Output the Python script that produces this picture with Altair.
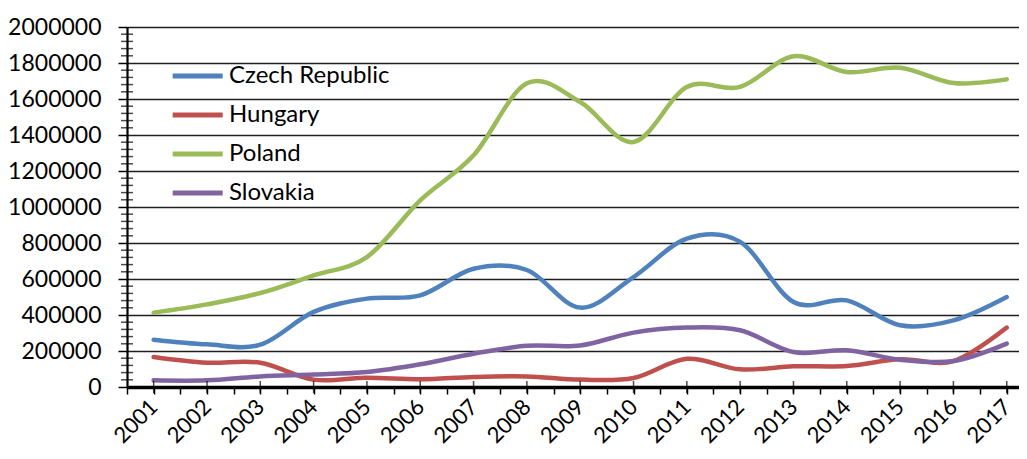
import altair as alt
import pandas as pd

years = list(range(2001, 2018))
countries = ["Czech Republic", "Hungary", "Poland", "Slovakia"]
czech = [263000, 237000, 235000, 417000, 491000, 509000, 657000, 650000, 441000,
         611000, 824000, 806000, 472000, 481000, 343000, 370000, 500000]
hungary = [167000, 135000, 135000, 41000, 52000, 43000, 56000, 59000, 41000,
           50000, 157000, 98000, 115000, 117000, 154000, 144000, 330000]
poland = [413000, 459000, 522000, 620000, 722000, 1037000, 1287000, 1687000, 1583000,
          1361000, 1667000, 1667000, 1837000, 1750000, 1774000, 1689000, 1709000]
slovakia = [37000, 37000, 59000, 69000, 83000, 126000, 185000, 229000, 231000,
            302000, 330000, 315000, 194000, 204000, 152000, 144000, 241000]
colors = ["#4F81BD", "#C0504D", "#9BBB59", "#8064A2"]

y_major = [i * 200000 for i in range(11)]
y_minor = [i * 40000 for i in range(51) if i % 5 != 0]
x_ticks = [2000.5 + 0.5 * i for i in range(34)]

series = {"Czech Republic": czech, "Hungary": hungary, "Poland": poland, "Slovakia": slovakia}
rows = []
for c in countries:
    for yr, v in zip(years, series[c]):
        rows.append({"year": yr, "country": c, "value": v})
df = pd.DataFrame(rows)

FONT = "Lato"

x_scale = alt.Scale(domain=[2000.5, 2017.23], nice=False, zero=False)
y_scale = alt.Scale(domain=[0, 2000000], nice=False)

x_axis = alt.Axis(
    values=x_ticks, title=None, grid=False,
    labelExpr="datum.value % 1 === 0 ? format(datum.value, 'd') : ''",
    labelAngle=-45, labelAlign="right", labelBaseline="middle",
    labelFontSize=22, labelFont=FONT, labelColor="#000000",
    labelPadding=9, tickSize=7, tickWidth=1.5, tickColor="#000000",
    domainColor="#000000", domainWidth=3.5, labelOverlap=False, labelFlush=False,
    labelBound=False)
y_axis = alt.Axis(
    values=y_major, title=None, format="d", grid=True, gridColor="#1e1e1e",
    gridWidth=1.4, labelFontSize=23, labelFont=FONT, labelColor="#000000",
    labelPadding=17, tickSize=9, tickWidth=1.5, tickColor="#000000",
    domainColor="#000000", domainWidth=2.2, labelOverlap=False)

lines = alt.Chart(df).mark_line(
    interpolate="cardinal", strokeWidth=4.5, strokeCap="round", strokeJoin="round"
).encode(
    x=alt.X("year:Q", scale=x_scale, axis=x_axis),
    y=alt.Y("value:Q", scale=y_scale, axis=y_axis),
    color=alt.Color("country:N", scale=alt.Scale(domain=countries, range=colors),
                    legend=alt.Legend(
                        title=None, orient="none", legendX=42, legendY=37,
                        symbolType="M-1,0H5", symbolSize=278, symbolStrokeWidth=5,
                        labelFontSize=24, labelFont=FONT, labelColor="#000000",
                        labelLimit=0, labelOffset=36, rowPadding=15, padding=0)),
)

minor_df = pd.DataFrame({"v": y_minor})
minor = alt.Chart(minor_df).mark_tick(orient="horizontal", size=12, thickness=1.5,
                                      color="#000000").encode(
    y=alt.Y("v:Q", scale=y_scale, axis=y_axis),
    x=alt.datum(2000.5, scale=x_scale, axis=x_axis),
)

year_df = pd.DataFrame({"yr": years})
yticks = alt.Chart(year_df).mark_tick(orient="vertical", size=12, thickness=1.5,
                                      color="#000000").encode(
    x=alt.X("yr:Q", scale=x_scale, axis=x_axis),
    y=alt.datum(0, scale=y_scale, axis=y_axis),
)

chart = alt.layer(lines, minor, yticks).properties(
    width=892, height=360,
    autosize=alt.AutoSizeParams(type="none"),
    padding={"left": 119, "top": 19, "right": 0, "bottom": 64},
    background="#ffffff",
).configure_view(stroke=None)

chart.save("out.html", embed_options={"renderer": "svg", "actions": False})
